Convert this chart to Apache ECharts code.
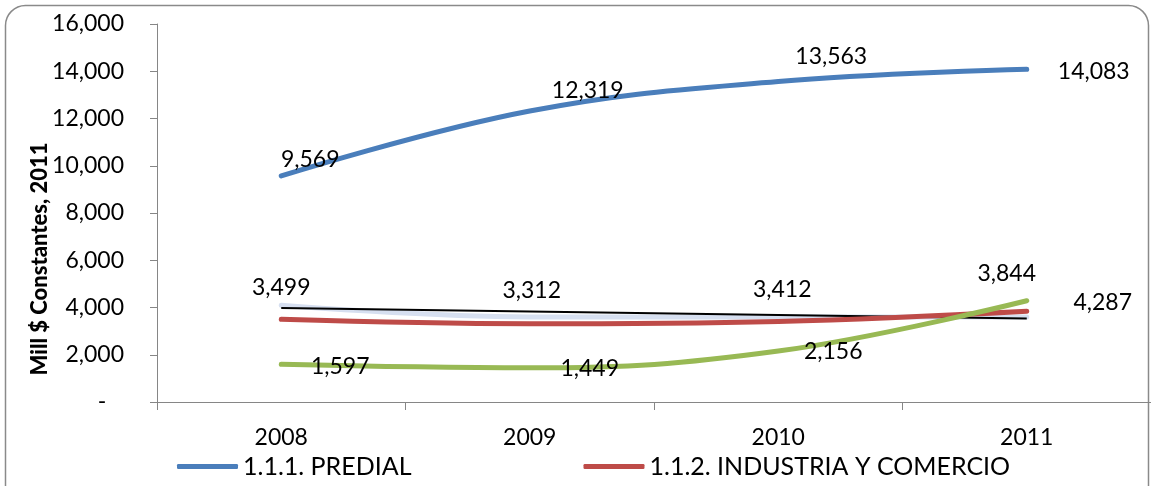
<!DOCTYPE html>
<html>
<head>
<meta charset="utf-8">
<script src="https://cdn.jsdelivr.net/npm/echarts@6/dist/echarts.min.js"></script>
<style>
  html, body { margin: 0; padding: 0; background: #fff; }
  #chart { width: 1151px; height: 486px; }
</style>
</head>
<body>
<div id="chart"></div>
<script>
// Years on the category axis
const years = ['2008', '2009', '2010', '2011'];

// Series values, millions of constant 2011 pesos
const predial = [9569, 12319, 13563, 14083];
const industria = [3499, 3312, 3412, 3844];
const serieVerde = [1597, 1449, 2156, 4287];
const serieClara = [4100, 3600, 3600, 3600];
const tendencia = [3980, 3830, 3680, 3530];

// Value axis ticks
const yTicks = [0, 2000, 4000, 6000, 8000, 10000, 12000, 14000, 16000];

// Label placement (pixel offsets from each point)
const offPredial = [[29, -16], [58, -20], [53, -25], [67, 2]];
const offIndustria = [[0, -32], [2, -33], [4, -32], [-20, -38]];
const offVerde = [[59, 2], [60, 1], [55, 1], [76, 2]];

const FONT = 'Lato, "Open Sans", sans-serif';
const fmt = v => v.toLocaleString('en-US');

const BLUE = '#4a7ebb';
const RED = '#be4b48';
const GREEN = '#98b954';

function labelled(values, offsets) {
  return values.map((v, i) => ({
    value: v,
    label: { offset: offsets[i] }
  }));
}

const labelBase = {
  show: true,
  position: 'inside',
  align: 'center',
  verticalAlign: 'middle',
  color: '#000',
  fontFamily: FONT,
  fontSize: 23,
  formatter: p => fmt(p.value)
};

function curve(name, values, offsets, color, z) {
  return {
    name: name,
    type: 'line',
    data: labelled(values, offsets),
    smooth: 0.4,
    symbol: 'circle',
    symbolSize: 1,
    showSymbol: true,
    itemStyle: { color: color },
    lineStyle: { color: color, width: 5, cap: 'round' },
    label: labelBase,
    z: z
  };
}

const chart = echarts.init(document.getElementById('chart'), null, { renderer: 'canvas' });

chart.setOption({
  animation: false,
  backgroundColor: '#fff',
  grid: { left: 157, top: 24, width: 996, height: 378, containLabel: false },
  legend: {
    data: [
      { name: '1.1.1. PREDIAL', itemStyle: { color: BLUE } },
      { name: '1.1.2. INDUSTRIA Y COMERCIO', itemStyle: { color: RED } }
    ],
    left: 172,
    top: 449,
    icon: 'roundRect',
    itemWidth: 61,
    itemHeight: 5,
    itemGap: 172,
    textStyle: { fontFamily: FONT, fontSize: 25, color: '#000' }
  },
  xAxis: {
    type: 'category',
    data: years,
    boundaryGap: true,
    axisLine: { lineStyle: { color: '#868686', width: 1 } },
    axisTick: { show: true, length: 8, lineStyle: { color: '#868686' } },
    axisLabel: { margin: 24, color: '#000', fontFamily: FONT, fontSize: 23 },
    splitLine: { show: false }
  },
  yAxis: {
    type: 'value',
    min: yTicks[0],
    max: yTicks[yTicks.length - 1],
    interval: yTicks[1] - yTicks[0],
    axisLine: { show: true, lineStyle: { color: '#868686', width: 1 } },
    axisTick: { show: true, length: 7, lineStyle: { color: '#868686' } },
    axisLabel: {
      margin: 33,
      color: '#000',
      fontFamily: FONT,
      fontSize: 23,
      formatter: v => (v === 0 ? '-   ' : fmt(v))
    },
    splitLine: { show: false }
  },
  graphic: [
    {
      type: 'rect',
      shape: { x: 5.5, y: 5.5, width: 1143, height: 500, r: 20 },
      style: { fill: null, stroke: '#8a8a8a', lineWidth: 1.5 },
      silent: true,
      z: -1
    },
    {
      type: 'text',
      x: 40,
      y: 259,
      rotation: Math.PI / 2,
      style: {
        text: 'Mill $ Constantes, 2011',
        fontFamily: FONT,
        fontWeight: 900,
        fontSize: 22,
        fill: '#000',
        textAlign: 'center',
        textVerticalAlign: 'middle'
      }
    }
  ],
  series: [
    {
      name: 'serie clara',
      type: 'line',
      data: serieClara,
      smooth: 0.4,
      symbol: 'none',
      lineStyle: { color: '#d6dff0', width: 5, cap: 'round' },
      z: 1
    },
    {
      name: 'tendencia',
      type: 'line',
      data: tendencia,
      symbol: 'none',
      lineStyle: { color: '#000', width: 2 },
      z: 2
    },
    curve('1.1.2. INDUSTRIA Y COMERCIO', industria, offIndustria, RED, 3),
    curve('serie verde', serieVerde, offVerde, GREEN, 4),
    curve('1.1.1. PREDIAL', predial, offPredial, BLUE, 5)
  ]
});
</script>
</body>
</html>
